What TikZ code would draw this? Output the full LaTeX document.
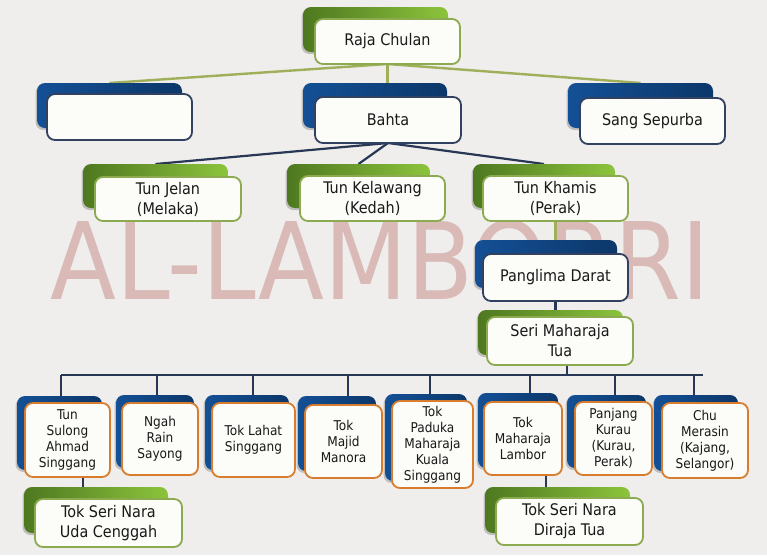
\documentclass[tikz,border=0pt]{standalone}
\usepackage{fontspec}
\setmainfont{DejaVu Sans Condensed}
\usetikzlibrary{shadows}
\definecolor{bgc}{RGB}{239,238,236}
\definecolor{wmc}{RGB}{217,186,182}
\definecolor{gD}{RGB}{78,120,32}
\definecolor{gL}{RGB}{140,196,60}
\definecolor{bD}{RGB}{20,80,150}
\definecolor{bM}{RGB}{32,108,188}
\definecolor{bR}{RGB}{12,55,105}
\definecolor{gB}{RGB}{140,170,80}
\definecolor{nB}{RGB}{50,65,95}
\definecolor{oB}{RGB}{215,125,45}
\definecolor{fillc}{RGB}{252,252,248}
\definecolor{olive}{RGB}{160,175,90}
\definecolor{navy}{RGB}{40,55,85}
\definecolor{txt}{RGB}{25,25,25}
\pgfdeclarelayer{mark}
\pgfdeclarelayer{lines}
\pgfdeclarelayer{backs}
\pgfsetlayers{mark,lines,backs,main}
\tikzset{
  shadowed/.style={drop shadow={shadow xshift=-1.5pt,shadow yshift=-2pt,opacity=.2,fill=black}},
  gback/.style={rectangle,rounded corners=8pt,left color=gD,right color=gL,draw=none,inner sep=0,outer sep=0,shadowed},
  bback/.style={rectangle,rounded corners=8pt,left color=bD,middle color=bM,right color=bR,draw=none,inner sep=0,outer sep=0,shadowed},
  frontbase/.style={rectangle,rounded corners=8pt,fill=fillc,line width=1.8pt,inner sep=0,outer sep=0,align=center,text=txt},
  gfront/.style={frontbase,draw=gB,font=\fontsize{16}{20}\selectfont},
  nfront/.style={frontbase,draw=nB,font=\fontsize{16}{20}\selectfont},
  ofront/.style={frontbase,draw=oB,font=\fontsize{13.5}{16}\selectfont},
  oline/.style={draw=olive,line width=2.4pt},
  nline/.style={draw=navy,line width=2.2pt},
}
\newcommand{\backbox}[6]{%
  \node[#2,minimum width={(#5)-(#3)},minimum height={(#6)-(#4)}] (#1) at ({((#3)+(#5))/2},{((#4)+(#6))/2}) {};}
\newcommand{\frontbox}[7]{%
  \node[#2,minimum width={(#5)-(#3)},minimum height={(#6)-(#4)}] (#1) at ({((#3)+(#5))/2},{((#4)+(#6))/2}) {#7};}
\begin{document}
\begin{tikzpicture}[x=1pt,y=-1pt]
\begin{pgfonlayer}{mark}
  \fill[bgc] (0,0) rectangle (767,555);
  \useasboundingbox (0,0) rectangle (767,555);
  \node[anchor=base west,inner sep=0,text=wmc,font=\fontsize{107}{107}\selectfont] (wm) at (50,299) {AL-LAMBORRI};
\end{pgfonlayer}
\begin{pgfonlayer}{backs}
  \backbox{rajaB}{gback}{303}{7}{448}{52}
  \backbox{emptyB}{bback}{37}{83}{182}{128}
  \backbox{bahtaB}{bback}{303}{83}{447}{128}
  \backbox{sangB}{bback}{568}{83}{713}{128}
  \backbox{jelanB}{gback}{83}{164}{228}{208}
  \backbox{kelB}{gback}{287}{164}{430}{208}
  \backbox{khamisB}{gback}{473}{164}{615}{208}
  \backbox{panB}{bback}{475}{240}{617}{288}
  \backbox{seriB}{gback}{478}{310}{623}{355}
  \backbox{b1B}{bback}{17}{396}{102}{470}
  \backbox{b2B}{bback}{116}{395}{194}{468}
  \backbox{b3B}{bback}{205}{395}{289}{470}
  \backbox{b4B}{bback}{298}{396}{376}{471}
  \backbox{b5B}{bback}{385}{394}{467}{481}
  \backbox{b6B}{bback}{478}{393}{558}{468}
  \backbox{b7B}{bback}{567}{395}{646}{468}
  \backbox{b8B}{bback}{654}{395}{738}{471}
  \backbox{g1B}{gback}{24}{487}{168}{533}
  \backbox{g2B}{gback}{485}{487}{630}{533}
\end{pgfonlayer}
\frontbox{raja}{gfront}{315}{19}{460}{64}{Raja Chulan}
\frontbox{empty}{nfront}{47}{94}{192}{140}{}
\frontbox{bahta}{nfront}{315}{97}{461}{143}{Bahta}
\frontbox{sang}{nfront}{580}{98}{725}{144}{Sang Sepurba}
\frontbox{jelan}{gfront}{95}{177}{241}{221}{Tun Jelan\\(Melaka)}
\frontbox{kel}{gfront}{300}{176}{445}{221}{Tun Kelawang\\(Kedah)}
\frontbox{khamis}{gfront}{483}{176}{628}{221}{Tun Khamis\\(Perak)}
\frontbox{pan}{nfront}{483}{254}{628}{301}{Panglima Darat}
\frontbox{seri}{gfront}{487}{317}{633}{365}{Seri Maharaja\\Tua}
\frontbox{b1}{ofront}{25}{403}{110}{477}{Tun\\Sulong\\Ahmad\\Singgang}
\frontbox{b2}{ofront}{122}{403}{198}{475}{Ngah\\Rain\\Sayong}
\frontbox{b3}{ofront}{212}{403}{295}{477}{Tok Lahat\\Singgang}
\frontbox{b4}{ofront}{305}{405}{382}{478}{Tok\\Majid\\Manora}
\frontbox{b5}{ofront}{392}{401}{473}{488}{Tok\\Paduka\\Maharaja\\Kuala\\Singgang}
\frontbox{b6}{ofront}{484}{402}{562}{475}{Tok\\Maharaja\\Lambor}
\frontbox{b7}{ofront}{575}{402}{652}{475}{Panjang\\Kurau\\(Kurau,\\Perak)}
\frontbox{b8}{ofront}{662}{403}{748}{478}{Chu\\Merasin\\(Kajang,\\Selangor)}
\frontbox{g1}{gfront}{35}{499}{182}{547}{Tok Seri Nara\\Uda Cenggah}
\frontbox{g2}{gfront}{496}{498}{643}{545}{Tok Seri Nara\\Diraja Tua}
\begin{pgfonlayer}{lines}
  \coordinate (busL) at (61,375);
  \coordinate (busR) at (703,375);
  \draw[oline] (raja.south) -- (emptyB.north);
  \draw[oline] (raja.south) -- (sangB.north);
  \draw[oline] (raja.south) -- (raja.south |- bahtaB.north);
  \draw[nline] (bahta.south) -- (jelanB.north);
  \draw[nline] (bahta.south) -- (kelB.north);
  \draw[nline] (bahta.south) -- (khamisB.north);
  \draw[oline] (khamis.south) -- (khamis.south |- panB.north);
  \draw[nline] (pan.south) -- (pan.south |- seriB.north);
  \draw[nline] ([xshift=7pt]seri.south) -- ([xshift=7pt]seri.south |- busL);
  \draw[nline] (busL) -- (busR);
  \foreach \n/\x in {b1B/61,b2B/157,b3B/253,b4B/348,b5B/430,b6B/530,b7B/615,b8B/694}
    \draw[nline] (\x,375) -- (\x,0 |- \n.north);
  \draw[nline] (83,0 |- b1.south) -- (83,0 |- g1B.north);
  \draw[nline] (546,0 |- b6.south) -- (546,0 |- g2B.north);
\end{pgfonlayer}
\end{tikzpicture}
\end{document}
